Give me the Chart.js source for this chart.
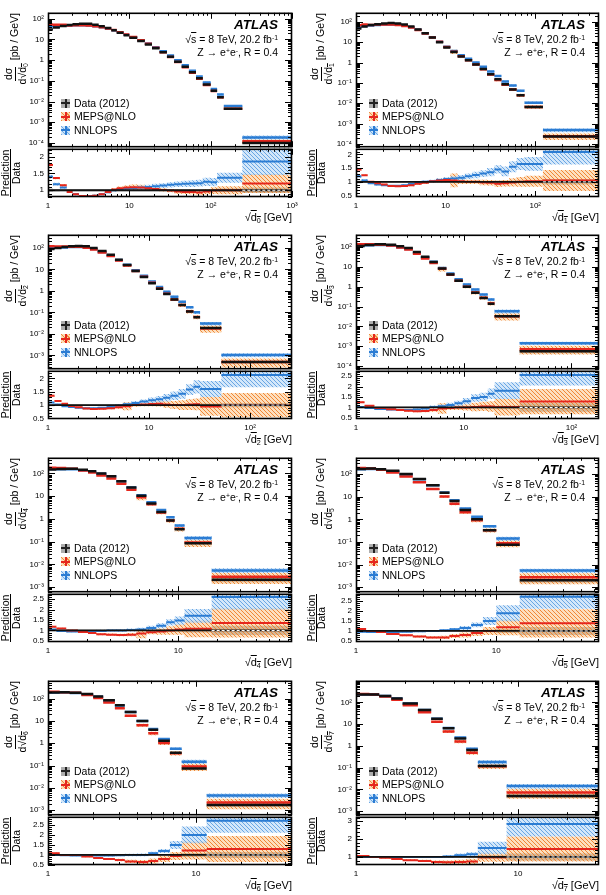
<!DOCTYPE html>
<html><head><meta charset="utf-8">
<script src="https://cdn.jsdelivr.net/npm/chart.js@4.4.1/dist/chart.umd.min.js"></script>
<style>
html,body{margin:0;padding:0;background:#fff;}
#root{position:relative;width:606px;height:895px;overflow:hidden;font-family:"Liberation Sans",Arial,Helvetica,sans-serif;color:#000;}
canvas{position:absolute;}
.t{position:absolute;white-space:nowrap;line-height:1;}
.ov{text-decoration:overline;}
.sb{font-size:0.65em;position:relative;top:0.25em;}
.sp{font-size:0.65em;position:relative;top:-0.45em;}
.frac{display:inline-flex;flex-direction:column;align-items:center;vertical-align:middle;line-height:1.05;}
.num{border-bottom:1px solid #000;padding:0 1px 1px;}
.den{padding-top:1px;}
.mk{position:absolute;width:9px;height:9px;}
.mk i{position:absolute;display:block;}
.bar{position:absolute;background:#000;}
</style></head>
<body><div id="root"></div>
<script>
// ---------------- DATA ----------------
// sqrt(d0)
const d0_edges = [1, 1.15, 1.4, 1.7, 2, 2.4, 2.9, 3.5, 4.2, 5, 6, 7, 8.5, 10, 12.5, 15.5, 19, 23.5, 29, 35.5, 44, 54, 66, 80, 100, 120, 145, 245, 1000];
const d0_data = [30, 38, 45, 50, 55, 58, 58, 52, 44, 36, 28, 21, 16, 12, 8.5, 5.8, 3.8, 2.4, 1.45, 0.85, 0.48, 0.26, 0.135, 0.066, 0.033, 0.016, 4.5e-3, 1.0e-4];
const d0_meps = [1.75, 1.36, 1.15, 0.95, 0.88, 0.83, 0.82, 0.84, 0.88, 0.95, 1.02, 1.06, 1.08, 1.09, 1.08, 1.06, 1.04, 1.01, 0.99, 0.96, 0.95, 0.95, 0.93, 0.96, 0.99, 1.0, 1.0, 1.2];
const d0_nnlops = [1.4, 1.18, 1.08, 0.96, 0.88, 0.83, 0.82, 0.84, 0.88, 0.94, 1.0, 1.03, 1.05, 1.07, 1.08, 1.1, 1.12, 1.14, 1.16, 1.18, 1.19, 1.2, 1.21, 1.25, 1.24, 1.37, 1.37, 1.85];
const d0_dataErr = [0.05,0.04,0.03,0.03,0.03, 0.03,0.03,0.03,0.03,0.03, 0.03,0.03,0.03,0.03,0.03, 0.03,0.03,0.03,0.03,0.03, 0.03,0.03,0.03,0.04,0.04, 0.05,0.05,0.08];
const d0_mepsErr = [0.04,0.03,0.03,0.03,0.03, 0.03,0.03,0.03,0.03,0.03, 0.04,0.05,0.06,0.08,0.08, 0.06,0.05,0.05,0.05,0.06, 0.06,0.07,0.08,0.08,0.1, 0.12,0.12,0.28];
const d0_nnlopsErr = [0.05,0.04,0.03,0.03,0.03, 0.03,0.03,0.03,0.03,0.03, 0.04,0.04,0.05,0.05,0.06, 0.06,0.07,0.07,0.08,0.08, 0.09,0.1,0.1,0.12,0.12, 0.15,0.15,0.4];
// sqrt(d1)
const d1_edges = [1, 1.15, 1.35, 1.6, 1.9, 2.25, 2.7, 3.2, 3.8, 4.5, 5.4, 6.5, 7.8, 9.4, 11.3, 13.6, 16.4, 19.8, 24, 29, 35, 42, 51, 62, 76, 122, 515];
const d1_data = [48, 60, 70, 78, 84, 88, 85, 75, 60, 43, 28, 17, 10, 5.5, 3.3, 2.0, 1.3, 0.8, 0.48, 0.27, 0.15, 0.085, 0.048, 0.025, 6.5e-3, 2.3e-4];
const d1_meps = [1.45, 1.24, 1.0, 0.95, 0.9, 0.85, 0.84, 0.85, 0.88, 0.93, 0.97, 1.02, 1.05, 1.07, 1.05, 1.02, 1.0, 1.0, 0.98, 0.97, 0.93, 0.95, 0.98, 1.0, 1.02, 1.05];
const d1_nnlops = [1.2, 1.05, 0.95, 0.9, 0.88, 0.86, 0.86, 0.88, 0.92, 0.96, 1.0, 1.03, 1.07, 1.1, 1.12, 1.15, 1.2, 1.25, 1.3, 1.35, 1.45, 1.38, 1.55, 1.65, 1.65, 2.08];
const d1_dataErr = [0.05,0.04,0.03,0.03,0.03, 0.03,0.03,0.03,0.03,0.03, 0.03,0.03,0.03,0.03,0.03, 0.03,0.03,0.03,0.03,0.03, 0.04,0.04,0.05,0.05,0.06, 0.1];
const d1_mepsErr = [0.04,0.03,0.03,0.03,0.03, 0.03,0.03,0.03,0.04,0.04, 0.05,0.05,0.06,0.08,0.25, 0.1,0.08,0.08,0.1,0.1, 0.12,0.12,0.15,0.18,0.2, 0.38];
const d1_nnlopsErr = [0.05,0.04,0.03,0.03,0.03, 0.03,0.03,0.03,0.04,0.04, 0.05,0.05,0.06,0.07,0.08, 0.1,0.1,0.12,0.12,0.15, 0.15,0.18,0.2,0.22,0.25, 0.45];
// sqrt(d2)
const d2_edges = [1, 1.16, 1.36, 1.58, 1.84, 2.2, 2.6, 3.1, 3.8, 4.6, 5.5, 6.7, 8.1, 9.8, 11.7, 13.8, 16.3, 19.5, 23.2, 27.5, 32, 52, 260];
const d2_data = [88, 100, 110, 118, 122, 118, 100, 72, 48, 28, 16, 8.5, 4.5, 2.3, 1.25, 0.72, 0.4, 0.22, 0.11, 0.06, 0.019, 5e-4];
const d2_meps = [1.35, 1.15, 1.05, 0.97, 0.92, 0.87, 0.85, 0.86, 0.88, 0.92, 0.96, 1.0, 1.02, 1.04, 1.05, 1.02, 1.0, 1.0, 1.02, 1.03, 0.95, 1.0];
const d2_nnlops = [1.1, 1.02, 0.96, 0.93, 0.9, 0.88, 0.88, 0.9, 0.93, 0.98, 1.03, 1.08, 1.13, 1.18, 1.22, 1.27, 1.35, 1.42, 1.58, 1.68, 1.6, 2.12];
const d2_dataErr = [0.04,0.03,0.03,0.03,0.03, 0.03,0.03,0.03,0.03,0.03, 0.03,0.03,0.03,0.03,0.03, 0.03,0.03,0.04,0.04,0.05, 0.06,0.08];
const d2_mepsErr = [0.04,0.03,0.03,0.03,0.03, 0.03,0.03,0.03,0.04,0.06, 0.15,0.06,0.06,0.08,0.1, 0.12,0.15,0.18,0.2,0.22, 0.35,0.45];
const d2_nnlopsErr = [0.04,0.03,0.03,0.03,0.03, 0.03,0.03,0.03,0.04,0.05, 0.06,0.07,0.08,0.1,0.12, 0.14,0.16,0.18,0.2,0.25, 0.3,0.45];
// sqrt(d3)
const d3_edges = [1, 1.2, 1.48, 1.9, 2.36, 2.8, 3.37, 4.0, 4.8, 5.75, 6.9, 8.2, 9.8, 11.7, 14, 16.7, 19.3, 33, 180];
const d3_data = [115, 130, 140, 135, 112, 92, 58, 33, 18, 8.5, 4.2, 2.0, 1.0, 0.5, 0.27, 0.14, 0.032, 5.5e-4];
const d3_meps = [1.25, 1.08, 0.97, 0.92, 0.88, 0.84, 0.82, 0.83, 0.88, 0.95, 0.98, 1.0, 1.0, 1.02, 1.05, 1.05, 1.02, 1.28];
const d3_nnlops = [1.02, 0.97, 0.93, 0.9, 0.88, 0.88, 0.9, 0.95, 1.02, 1.06, 1.12, 1.2, 1.3, 1.45, 1.5, 1.65, 1.8, 2.55];
const d3_dataErr = [0.04,0.03,0.03,0.03,0.03, 0.03,0.03,0.03,0.03,0.03, 0.03,0.03,0.04,0.04,0.05, 0.06,0.08,0.2];
const d3_mepsErr = [0.04,0.03,0.03,0.03,0.04, 0.04,0.05,0.06,0.08,0.25, 0.1,0.12,0.15,0.2,0.22, 0.25,0.4,0.6];
const d3_nnlopsErr = [0.04,0.03,0.03,0.03,0.03, 0.04,0.05,0.06,0.07,0.08, 0.1,0.12,0.15,0.18,0.2, 0.25,0.4,0.5];
// sqrt(d4)
const d4_edges = [1, 1.16, 1.38, 1.7, 2.03, 2.35, 2.81, 3.35, 4.0, 4.78, 5.7, 6.8, 8.1, 9.4, 11.2, 18.1, 75];
const d4_data = [150, 158, 160, 145, 125, 100, 75, 45, 24, 10.6, 4.8, 2.0, 0.85, 0.35, 0.085, 2.1e-3];
const d4_meps = [1.18, 1.1, 1.0, 0.93, 0.88, 0.82, 0.8, 0.78, 0.8, 0.85, 0.92, 0.95, 1.0, 1.05, 1.08, 1.36];
const d4_nnlops = [1.05, 0.97, 0.95, 0.95, 0.97, 0.98, 1.0, 1.0, 1.02, 1.05, 1.12, 1.23, 1.39, 1.47, 1.7, 2.6];
const d4_dataErr = [0.04,0.03,0.03,0.03,0.03, 0.03,0.03,0.03,0.03,0.04, 0.04,0.05,0.06,0.07,0.1, 0.22];
const d4_mepsErr = [0.04,0.03,0.03,0.04,0.04, 0.05,0.05,0.06,0.08,0.22, 0.1,0.15,0.2,0.25,0.4, 0.7];
const d4_nnlopsErr = [0.04,0.03,0.03,0.04,0.04, 0.05,0.05,0.06,0.07,0.08, 0.1,0.12,0.15,0.2,0.33, 0.6];
// sqrt(d5)
const d5_edges = [1, 1.18, 1.39, 1.64, 2.04, 2.54, 3.16, 3.94, 4.64, 5.47, 6.62, 8.03, 10, 14.7, 54];
const d5_data = [170, 175, 165, 140, 100, 60, 32, 15, 6.5, 2.6, 1.0, 0.33, 0.075, 2e-3];
const d5_meps = [1.1, 1.0, 0.95, 0.85, 0.78, 0.72, 0.68, 0.68, 0.75, 0.8, 0.9, 1.0, 1.18, 1.38];
const d5_nnlops = [0.96, 0.95, 0.95, 0.95, 0.96, 0.98, 1.0, 1.03, 1.08, 1.15, 1.3, 1.5, 1.88, 2.7];
const d5_dataErr = [0.04,0.03,0.03,0.03,0.03, 0.03,0.03,0.03,0.04,0.04, 0.05,0.06,0.1,0.2];
const d5_mepsErr = [0.04,0.03,0.03,0.04,0.04, 0.05,0.06,0.08,0.1,0.12, 0.15,0.2,0.4,0.7];
const d5_nnlopsErr = [0.04,0.03,0.03,0.04,0.04, 0.05,0.05,0.06,0.07,0.1, 0.12,0.2,0.4,0.6];
// sqrt(d6)
const d6_edges = [1, 1.2, 1.4, 1.68, 2.02, 2.36, 2.83, 3.3, 3.96, 4.76, 5.55, 6.66, 8.0, 11.8, 44.5];
const d6_data = [190, 195, 185, 160, 125, 85, 50, 25, 10, 4.0, 1.3, 0.38, 0.075, 1.7e-3];
const d6_meps = [1.08, 1.0, 1.0, 0.92, 0.85, 0.8, 0.75, 0.68, 0.65, 0.7, 0.8, 0.95, 1.22, 1.3];
const d6_nnlops = [1.0, 0.98, 0.97, 0.97, 0.97, 0.97, 0.98, 1.0, 1.0, 1.08, 1.2, 1.5, 2.0, 2.7];
const d6_dataErr = [0.04,0.03,0.03,0.03,0.03, 0.03,0.03,0.03,0.04,0.04, 0.05,0.06,0.1,0.15];
const d6_mepsErr = [0.04,0.03,0.03,0.04,0.04, 0.05,0.06,0.08,0.1,0.12, 0.15,0.2,0.45,0.65];
const d6_nnlopsErr = [0.04,0.03,0.03,0.04,0.04, 0.05,0.05,0.06,0.07,0.08, 0.1,0.2,0.42,0.6];
// sqrt(d7)
const d7_edges = [1, 1.21, 1.39, 1.65, 1.94, 2.41, 2.91, 3.43, 4.05, 4.79, 5.65, 8.5, 31.6];
const d7_data = [230, 230, 200, 150, 90, 45, 18, 6.5, 2.2, 0.65, 0.12, 5e-3];
const d7_meps = [1.05, 1.0, 0.95, 0.88, 0.82, 0.78, 0.72, 0.7, 0.72, 0.75, 0.98, 1.45];
const d7_nnlops = [1.0, 1.0, 1.0, 1.0, 1.0, 1.0, 1.0, 1.03, 1.1, 1.15, 1.5, 2.85];
const d7_dataErr = [0.04,0.03,0.03,0.03,0.03, 0.03,0.04,0.04,0.05,0.06, 0.1,0.2];
const d7_mepsErr = [0.04,0.03,0.04,0.04,0.05, 0.06,0.08,0.1,0.12,0.15, 0.25,0.7];
const d7_nnlopsErr = [0.04,0.03,0.04,0.04,0.05, 0.05,0.06,0.08,0.1,0.12, 0.35,0.7];

const legendLabels = ['Data (2012)', 'MEPS@NLO', 'NNLOPS'];

// ---------------- assembled table ----------------
const PANELS = [
  {edges:d0_edges, data:d0_data, meps:d0_meps, nnl:d0_nnlops, dE:d0_dataErr, mE:d0_mepsErr, nE:d0_nnlopsErr},
  {edges:d1_edges, data:d1_data, meps:d1_meps, nnl:d1_nnlops, dE:d1_dataErr, mE:d1_mepsErr, nE:d1_nnlopsErr},
  {edges:d2_edges, data:d2_data, meps:d2_meps, nnl:d2_nnlops, dE:d2_dataErr, mE:d2_mepsErr, nE:d2_nnlopsErr},
  {edges:d3_edges, data:d3_data, meps:d3_meps, nnl:d3_nnlops, dE:d3_dataErr, mE:d3_mepsErr, nE:d3_nnlopsErr},
  {edges:d4_edges, data:d4_data, meps:d4_meps, nnl:d4_nnlops, dE:d4_dataErr, mE:d4_mepsErr, nE:d4_nnlopsErr},
  {edges:d5_edges, data:d5_data, meps:d5_meps, nnl:d5_nnlops, dE:d5_dataErr, mE:d5_mepsErr, nE:d5_nnlopsErr},
  {edges:d6_edges, data:d6_data, meps:d6_meps, nnl:d6_nnlops, dE:d6_dataErr, mE:d6_mepsErr, nE:d6_nnlopsErr},
  {edges:d7_edges, data:d7_data, meps:d7_meps, nnl:d7_nnlops, dE:d7_dataErr, mE:d7_mepsErr, nE:d7_nnlopsErr},
];
// axis ranges (view settings)
const VIEW = [
  {ymin:6.2e-5, ymax:195, rmin:0.8,  rmax:2.23, rstep:0.5},
  {ymin:6.9e-5, ymax:282, rmin:0.45, rmax:2.2,  rstep:0.5},
  {ymin:2.3e-4, ymax:407, rmin:0.48, rmax:2.28, rstep:0.5},
  {ymin:6.8e-5, ymax:427, rmin:0.45, rmax:2.75, rstep:0.5},
  {ymin:6.3e-4, ymax:490, rmin:0.45, rmax:2.75, rstep:0.5},
  {ymin:6e-4,   ymax:525, rmin:0.45, rmax:2.85, rstep:0.5},
  {ymin:6e-4,   ymax:630, rmin:0.5,  rmax:2.9,  rstep:0.5},
  {ymin:6.5e-4, ymax:990, rmin:0.55, rmax:3.25, rstep:1},
];

// ---------------- layout ----------------
const ROW_TOP = [12, 234, 457, 680];
const MAIN_H = 136, RATIO_H = 49;
const COL_X0 = [0, 303], FRAME_L = [48, 356], FRAME_R = [292, 599];
const PAD = 8, RPAD = 12, XAX_H = 16;
const FONT = '"Liberation Sans", Arial, Helvetica, sans-serif';
const C_DATA = '#111111', C_MEPS = '#e5261d', C_NNL = '#2b7cd3';
const root = document.getElementById('root');

const SUP = {'0':'⁰','1':'¹','2':'²','3':'³','4':'⁴','5':'⁵','6':'⁶','7':'⁷','8':'⁸','9':'⁹','-':'⁻'};
function powLabel(v){ const e=Math.round(Math.log10(v)); if(e===0) return '1'; if(e===1) return '10'; return '10'+String(e).split('').map(c=>SUP[c]).join(''); }
function decades(min,max){ const out=[]; for(let e=Math.ceil(Math.log10(min)-1e-9); e<=Math.floor(Math.log10(max)+1e-9); e++) out.push(Math.pow(10,e)); return out; }
function linTicks(min,max,step){ const out=[]; for(let v=Math.ceil(min/step-1e-9)*step; v<=max+1e-9; v+=step) out.push(+v.toFixed(4)); return out; }

function segs(edges, vals){ const p=[]; vals.forEach((v,i)=>{ p.push({x:edges[i],y:v},{x:edges[i+1],y:v},{x:edges[i+1],y:null}); }); return p; }
function steps(edges, vals){ const p=vals.map((v,i)=>({x:edges[i],y:v})); p.push({x:edges[edges.length-1],y:vals[vals.length-1]}); return p; }

function hatch(ctx, bg, fg, s, lw){
  const c=document.createElement('canvas'); c.width=c.height=s;
  const g=c.getContext('2d'); g.fillStyle=bg; g.fillRect(0,0,s,s);
  g.strokeStyle=fg; g.lineWidth=lw; g.beginPath();
  g.moveTo(0,0); g.lineTo(s,s); g.moveTo(s-1,-1); g.lineTo(s+1,1); g.moveTo(-1,s-1); g.lineTo(1,s+1);
  g.stroke();
  return ctx.createPattern(c,'repeat');
}

const framePlugin = {
  id:'frame',
  afterDatasetsDraw(chart, args, o){
    const ctx=chart.ctx, a=chart.chartArea, xs=chart.scales.x, ys=chart.scales.y;
    ctx.save(); ctx.strokeStyle='#000'; ctx.lineWidth=1; ctx.beginPath();
    for(let e=Math.floor(Math.log10(xs.min)); e<=Math.ceil(Math.log10(xs.max)); e++){
      for(let k=1;k<10;k++){ const v=k*Math.pow(10,e); if(v<xs.min*0.999||v>xs.max*1.001) continue;
        const px=Math.round(xs.getPixelForValue(v))+0.5, L=k===1?o.xMaj:o.xMin;
        ctx.moveTo(px,a.bottom); ctx.lineTo(px,a.bottom-L); ctx.moveTo(px,a.top); ctx.lineTo(px,a.top+L); }
    }
    const yv=[];
    if(o.ylog){
      for(let e=Math.floor(Math.log10(ys.min)); e<=Math.ceil(Math.log10(ys.max)); e++)
        for(let k=1;k<10;k++){ const v=k*Math.pow(10,e); if(v>=ys.min&&v<=ys.max) yv.push([v,k===1]); }
    } else {
      const st=o.ystep/5; for(let v=Math.ceil(ys.min/st-1e-9)*st; v<=ys.max+1e-9; v+=st){ const r=Math.abs(v/o.ystep-Math.round(v/o.ystep))<1e-6; yv.push([v,r]); }
    }
    yv.forEach(([v,maj])=>{ const py=Math.round(ys.getPixelForValue(v))+0.5, L=maj?o.yMaj:o.yMin;
      ctx.moveTo(a.left,py); ctx.lineTo(a.left+L,py); ctx.moveTo(a.right,py); ctx.lineTo(a.right-L,py); });
    ctx.stroke();
    ctx.lineWidth=1.6;
    ctx.strokeRect(a.left+0.5,a.top+0.5,a.right-a.left-1,a.bottom-a.top-1);
    ctx.restore();
  }
};

function mkCanvas(left, top, w, h){ const c=document.createElement('canvas'); c.width=w; c.height=h; c.style.left=left+'px'; c.style.top=top+'px'; c.style.width=w+'px'; c.style.height=h+'px'; root.appendChild(c); return c; }

function band(lo, hi, edges, fillStyle){
  return [
    {data:steps(edges,lo), stepped:true, borderWidth:0, borderColor:'rgba(0,0,0,0)', pointRadius:0, fill:false},
    {data:steps(edges,hi), stepped:true, borderWidth:0, borderColor:'rgba(0,0,0,0)', pointRadius:0, fill:'-1', backgroundColor:fillStyle}
  ];
}
function line(edges, vals, color, w, dash){ return {data:segs(edges,vals), borderColor:color, borderWidth:w, borderDash:dash||[], pointRadius:0, fill:false, spanGaps:false, borderCapStyle:'butt'}; }

function makeChart(canvas, datasets, xScale, yScale, frameOpts, bottomPad){
  datasets.forEach((d,i)=>{ d.order = datasets.length - i; });
  return new Chart(canvas.getContext('2d'), {
    type:'line', data:{datasets},
    options:{ responsive:false, animation:false, devicePixelRatio:1, events:[],
      layout:{padding:{top:PAD,bottom:bottomPad,left:0,right:RPAD}},
      plugins:{legend:{display:false}, tooltip:{enabled:false}, frame:frameOpts},
      scales:{x:xScale, y:yScale} },
    plugins:[framePlugin]
  });
}

function tickFont(){ return {family:FONT, size:8}; }

function vtext(txt, xc, yc, len, size){
  return `<div class="t" style="left:${xc-size/2}px;top:${yc+len/2}px;width:${len}px;text-align:center;transform:rotate(-90deg);transform-origin:0 0;font-size:${size}px;">${txt}</div>`;
}

PANELS.forEach((p, idx)=>{
  const col=idx%2, row=Math.floor(idx/2), v=VIEW[idx];
  const x0=COL_X0[col], fl=FRAME_L[col], fr=FRAME_R[col], top=ROW_TOP[row];
  const xmin=p.edges[0], xmax=p.edges[p.edges.length-1];
  const yw=fl-x0, cw=fr-x0+RPAD;
  const n=p.data.length;

  // ---- main panel ----
  const cm=mkCanvas(x0, top-PAD, cw, MAIN_H+2*PAD);
  const g=cm.getContext('2d');
  const PAT_M=hatch(g,'rgba(250,185,110,0.45)','rgba(238,125,40,0.9)',4,1);
  const PAT_N=hatch(g,'rgba(175,212,245,0.55)','rgba(95,160,225,0.9)',4,1);
  const GREY='rgba(110,110,110,0.5)';
  const dsM=[].concat(
    band(p.data.map((d,i)=>d*(1-p.dE[i])), p.data.map((d,i)=>d*(1+p.dE[i])), p.edges, GREY),
    band(p.data.map((d,i)=>d*(p.meps[i]-p.mE[i])), p.data.map((d,i)=>d*(p.meps[i]+p.mE[i])), p.edges, PAT_M),
    band(p.data.map((d,i)=>d*(p.nnl[i]-p.nE[i])), p.data.map((d,i)=>d*(p.nnl[i]+p.nE[i])), p.edges, PAT_N),
    [line(p.edges, p.data.map((d,i)=>d*p.nnl[i]), C_NNL, 2.5),
     line(p.edges, p.data.map((d,i)=>d*p.meps[i]), C_MEPS, 2.5),
     line(p.edges, p.data, C_DATA, 2.5)]
  );
  makeChart(cm, dsM,
    {type:'logarithmic', display:false, min:xmin, max:xmax},
    {type:'logarithmic', min:v.ymin, max:v.ymax, grid:{display:false, drawTicks:false}, border:{display:false},
     afterFit:s=>{s.width=yw;}, afterBuildTicks:s=>{s.ticks=decades(v.ymin,v.ymax).map(t=>({value:t}));},
     ticks:{autoSkip:false, padding:4, color:'#000', font:tickFont(), callback:val=>powLabel(val)}},
    {ylog:true, xMaj:6, xMin:3, yMaj:7, yMin:4}, PAD);

  // ---- ratio panel ----
  const rTop=top+MAIN_H;
  const cr=mkCanvas(x0, rTop-PAD, cw, PAD+RATIO_H+XAX_H);
  const h=cr.getContext('2d');
  const PAT_M2=hatch(h,'rgba(250,185,110,0.45)','rgba(238,125,40,0.9)',4,1);
  const PAT_N2=hatch(h,'rgba(175,212,245,0.55)','rgba(95,160,225,0.9)',4,1);
  const ones=p.data.map(()=>1);
  const dsR=[].concat(
    band(p.dE.map(e=>1-e), p.dE.map(e=>1+e), p.edges, GREY),
    band(p.meps.map((m,i)=>m-p.mE[i]), p.meps.map((m,i)=>m+p.mE[i]), p.edges, PAT_M2),
    band(p.nnl.map((m,i)=>m-p.nE[i]), p.nnl.map((m,i)=>m+p.nE[i]), p.edges, PAT_N2),
    [line(p.edges, p.nnl, C_NNL, 2),
     line(p.edges, p.meps, C_MEPS, 2),
     line(p.edges, ones, C_DATA, 1.8),
     line(p.edges.slice(n-1), [1], '#ffffff', 1, [3,2])]
  );
  makeChart(cr, dsR,
    {type:'logarithmic', min:xmin, max:xmax, grid:{display:false, drawTicks:false}, border:{display:false},
     afterFit:s=>{s.height=XAX_H;}, afterBuildTicks:s=>{s.ticks=decades(xmin,xmax).map(t=>({value:t}));},
     ticks:{autoSkip:false, maxRotation:0, padding:4, color:'#000', font:tickFont(), callback:val=>powLabel(val)}},
    {type:'linear', min:v.rmin, max:v.rmax, grid:{display:false, drawTicks:false}, border:{display:false},
     afterFit:s=>{s.width=yw;}, afterBuildTicks:s=>{s.ticks=linTicks(v.rmin,v.rmax,v.rstep).map(t=>({value:t}));},
     ticks:{autoSkip:false, padding:4, color:'#000', font:tickFont(), callback:val=>String(+Number(val).toFixed(2))}},
    {ylog:false, ystep:v.rstep, xMaj:6, xMin:3, yMaj:7, yMin:4}, 0);

  // ---- texts ----
  const rBot=rTop+RATIO_H, R=606-(fr-14);
  let html='';
  html+=`<div class="t" style="right:${R}px;top:${top+6}px;font-size:13.5px;font-weight:bold;font-style:italic;">ATLAS</div>`;
  html+=`<div class="t" style="right:${R}px;top:${top+22}px;font-size:10.5px;">√<span class="ov">s</span> = 8 TeV, 20.2 fb<span class="sp">-1</span></div>`;
  html+=`<div class="t" style="right:${R}px;top:${top+35}px;font-size:10.5px;">Z → e<span class="sp">+</span>e<span class="sp">-</span>, R = 0.4</div>`;
  const mk=[
    {bg:'rgba(120,120,120,0.6)', c:'#222'},
    {bg:'repeating-linear-gradient(45deg, rgba(238,125,40,0.9) 0 1px, rgba(250,185,110,0.5) 1px 3px)', c:C_MEPS},
    {bg:'repeating-linear-gradient(45deg, rgba(95,160,225,0.9) 0 1px, rgba(175,212,245,0.6) 1px 3px)', c:C_NNL}];
  legendLabels.forEach((lab,i)=>{
    const cy=top+91+i*13.5;
    html+=`<div class="mk" style="left:${fl+13}px;top:${cy-4.5}px;background:${mk[i].bg};"><i style="left:0;top:3.5px;width:9px;height:2px;background:${mk[i].c}"></i><i style="left:3.5px;top:0;width:2px;height:9px;background:${mk[i].c}"></i></div>`;
    html+=`<div class="t" style="left:${fl+26}px;top:${cy-5.5}px;font-size:10.5px;">${lab}</div>`;
  });
  const W=110;
  html+=`<div class="t" style="left:${x0+(col?6:3)}px;top:${top+1+W}px;width:${W}px;text-align:right;transform:rotate(-90deg);transform-origin:0 0;font-size:10.5px;"><span class="frac"><span class="num">dσ</span><span class="den">d√<span class="ov">d<span class="sb">${idx}</span></span></span></span> [pb / GeV]</div>`;
  const cyR=rTop+RATIO_H/2, xb=x0+(col?13:10.5);
  html+=vtext('Prediction', xb-5, cyR, 80, 10.5);
  html+=`<div class="bar" style="left:${xb-0.5}px;top:${cyR-24}px;width:1px;height:48px;"></div>`;
  html+=vtext('Data', xb+5.5, cyR, 80, 10.5);
  html+=`<div class="t" style="right:${606-fr}px;top:${rBot+15}px;font-size:11px;">√<span class="ov">d<span class="sb">${idx}</span></span> [GeV]</div>`;
  root.insertAdjacentHTML('beforeend', html);
});
</script>
</body></html>
